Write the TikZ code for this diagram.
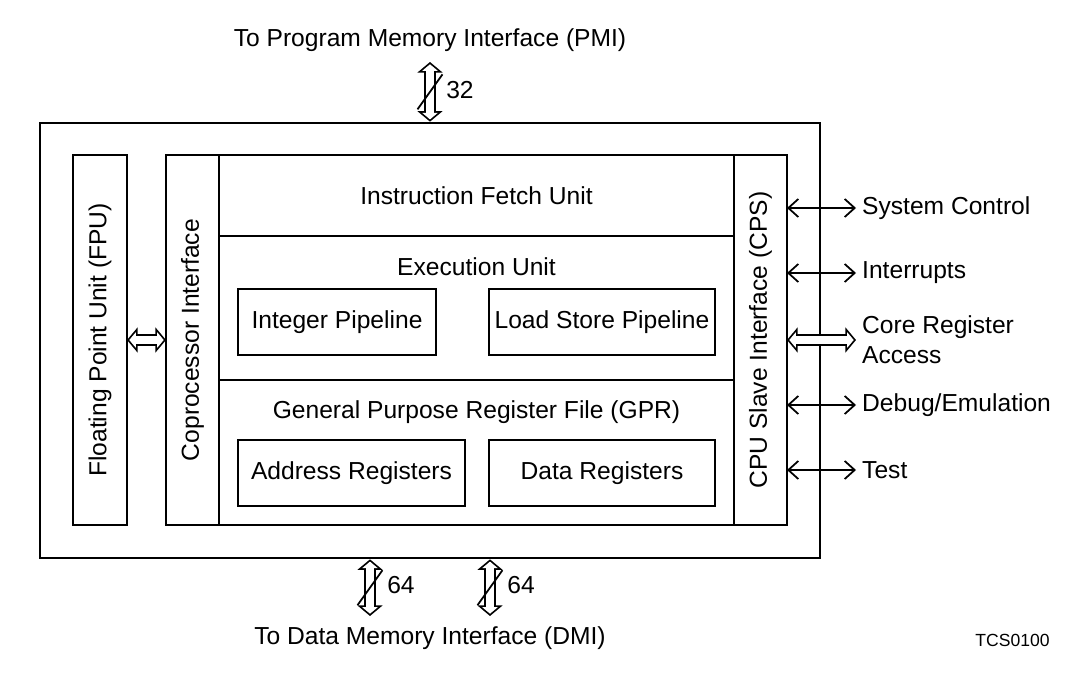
\documentclass[tikz,border=0pt]{standalone}
\usepackage{fontspec}
\setmainfont{Liberation Sans}
\usetikzlibrary{arrows.meta, positioning}

\begin{document}
\begin{tikzpicture}[
        unit/.style={rectangle, draw, line width=1.3pt, align=center, inner sep=0pt, outer sep=0pt},
        frame/.style={rectangle, draw, line width=1.5pt, inner sep=0pt},
        label/.style={align=center, font=\fontsize{14}{17}\selectfont},
        signal/.style={{Straight Barb[length=2mm, width=3.6mm]}-{Straight Barb[length=2mm, width=3.6mm]}, line width=1pt},
        bus/.style={line width=7pt, {Triangle[length=6pt, width=14pt]}-{Triangle[length=6pt, width=14pt]},
            postaction={draw, white, line width=5pt, shorten <=1.3pt, shorten >=1.3pt,
                {Triangle[length=3.7pt, width=8.6pt]}-{Triangle[length=3.7pt, width=8.6pt]}}},
        slash/.style={line width=1pt},
        node distance=1cm and 1cm
        ]
        \useasboundingbox (0,0) rectangle (21.84,13.44);

        % Nodes
        \node (frame) [frame, minimum width=15.6cm, minimum height=8.7cm] at (8.60,6.63) {};
        \node (fpu) [unit, minimum width=1.08cm, minimum height=7.4cm] at (2.00,6.64) {};
        \node [label, rotate=90] at (fpu.center) {Floating Point Unit (FPU)};
        \node (coproc) [unit, minimum width=1.06cm, minimum height=7.4cm] at (3.85,6.64) {};
        \node [label, rotate=90] at (coproc.center) {Coprocessor Interface};
        \node (fetch) [unit, label, minimum width=10.3cm, minimum height=1.62cm] at (9.53,9.53) {Instruction Fetch Unit};
        \node (exec) [unit, minimum width=10.3cm, minimum height=2.88cm, below=0pt of fetch] {};
        \node (gpr) [unit, minimum width=10.3cm, minimum height=2.90cm, below=0pt of exec] {};
        \node (cps) [unit, minimum width=1.06cm, minimum height=7.4cm] at (15.21,6.64) {};
        \node [label, rotate=90] at (cps.center) {CPU Slave Interface (CPS)};

        \node [label] at (9.53,8.10) {Execution Unit};
        \node (intpipe) [unit, label, minimum width=3.96cm, minimum height=1.32cm] at (6.74,7.00) {Integer Pipeline};
        \node (lspipe) [unit, label, minimum width=4.52cm, minimum height=1.32cm] at (12.04,7.00) {Load Store Pipeline};
        \node [label] at (9.53,5.20) {General Purpose Register File (GPR)};
        \node (addrreg) [unit, label, minimum width=4.54cm, minimum height=1.32cm] at (7.03,3.98) {Address Registers};
        \node (datareg) [unit, label, minimum width=4.52cm, minimum height=1.32cm] at (12.04,3.98) {Data Registers};

        % Outside signals
        \node (sysctrl) [label, anchor=west] at (17.12,9.28) {System Control};
        \node (irq) [label, anchor=west] at (17.12,7.98) {Interrupts};
        \node (corereg) [label, anchor=west, align=left] at (17.12,6.64) {Core Register\\Access};
        \node (debug) [label, anchor=west] at (17.12,5.34) {Debug/Emulation};
        \node (test) [label, anchor=west] at (17.12,4.04) {Test};

        \node (pmi) [label] at (8.60,12.64) {To Program Memory Interface (PMI)};
        \node (dmi) [label] at (8.60,0.68) {To Data Memory Interface (DMI)};
        \node (tcs) [font=\fontsize{10}{12}\selectfont] at (20.25,0.64) {TCS0100};

        \coordinate (pmi end) at (8.60,12.20);
        \coordinate (dmi end a) at (7.40,1.12);
        \coordinate (dmi end b) at (9.80,1.12);

        % Arrows
        \draw [signal] (cps.east |- sysctrl) -- (sysctrl.west);
        \draw [signal] (cps.east |- irq) -- (irq.west);
        \draw [bus] (cps.east |- corereg) -- (corereg.west);
        \draw [signal] (cps.east |- debug) -- (debug.west);
        \draw [signal] (cps.east |- test) -- (test.west);
        \draw [bus] (fpu.east) -- (coproc.west);

        \draw [bus] (pmi end) -- coordinate (pmi mid) (pmi end |- frame.north);
        \draw [slash] (pmi mid) +(-0.25,-0.35) -- +(0.25,0.35);
        \node [label] at (9.20,11.64) {32};

        \draw [bus] (dmi end a |- frame.south) -- coordinate (dmi mid a) (dmi end a);
        \draw [slash] (dmi mid a) +(-0.25,-0.35) -- +(0.25,0.35);
        \node [label] at (8.02,1.74) {64};
        \draw [bus] (dmi end b |- frame.south) -- coordinate (dmi mid b) (dmi end b);
        \draw [slash] (dmi mid b) +(-0.25,-0.35) -- +(0.25,0.35);
        \node [label] at (10.42,1.74) {64};

    \end{tikzpicture}
\end{document}
